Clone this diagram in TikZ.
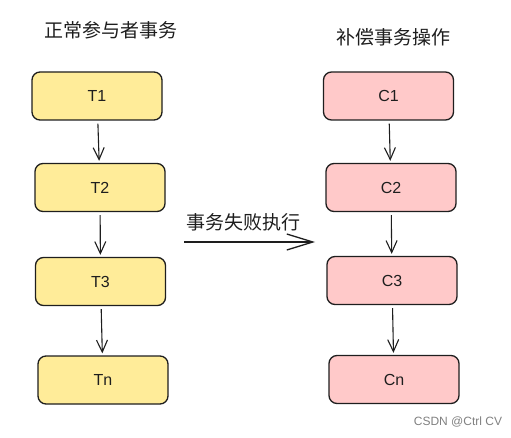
\documentclass[tikz,border=0pt]{standalone}
\usepackage{fontspec}
\setmainfont{Liberation Sans}
\newfontfamily\cjk{Noto Sans CJK SC}
\usetikzlibrary{arrows.meta,positioning}
\definecolor{stepyellow}{HTML}{FFEC99}
\definecolor{steppink}{HTML}{FFC9C9}
\definecolor{inkline}{HTML}{1E1E1E}
\begin{document}
\begin{tikzpicture}[x=1pt,y=-1pt,
		txbox/.style={draw=inkline, line width=1.3pt, rounded corners=8pt, minimum width=130pt, minimum height=48pt, font=\fontsize{16}{18}\selectfont, text=inkline},
		ybox/.style={txbox, fill=stepyellow},
		pbox/.style={txbox, fill=steppink},
		flow/.style={draw=inkline, line width=1.1pt, -{Straight Barb[length=12pt,width=11pt]}, shorten <=3pt, shorten >=2pt},
		title/.style={font=\cjk\fontsize{19}{21}\selectfont, text=inkline}]
		\useasboundingbox (0,0) rectangle (511,438);
		% titles
		\node[title] (lefttitle) at (111,30) {正常参与者事务};
		\node[title] (righttitle) at (393,37) {补偿事务操作};
		% normal participants
		\node[ybox] (T1) at (97,96) {T1};
		\node[ybox] (T2) at (100,187.5) {T2};
		\node[ybox] (T3) at (100.5,281.5) {T3};
		\node[ybox] (Tn) at (103,380) {Tn};
		% compensation
		\node[pbox] (C1) at (388.5,96) {C1};
		\node[pbox] (C2) at (391,187.5) {C2};
		\node[pbox] (C3) at (392,280.5) {C3};
		\node[pbox] (Cn) at (394,379.5) {Cn};
		\draw[flow] (T1) -- (T2);
		\draw[flow] (T2) -- (T3);
		\draw[flow] (T3) -- (Tn);
		\draw[flow] (C1) -- (C2);
		\draw[flow] (C2) -- (C3);
		\draw[flow] (C3) -- (Cn);
		% failure
		\coordinate (failstart) at (184,242);
		\coordinate (failend) at (315,242);
		\draw[flow, line width=1.3pt, shorten <=0pt, shorten >=0pt, -{Straight Barb[length=26pt,width=16pt]}] (failstart) -- (failend);
		\node[title] (faillabel) at (243,222) {事务失败执行};
		\node[font=\fontsize{12}{14}\selectfont, text=gray] (mark) at (458,422) {CSDN @Ctrl CV};
	\end{tikzpicture}
\end{document}
